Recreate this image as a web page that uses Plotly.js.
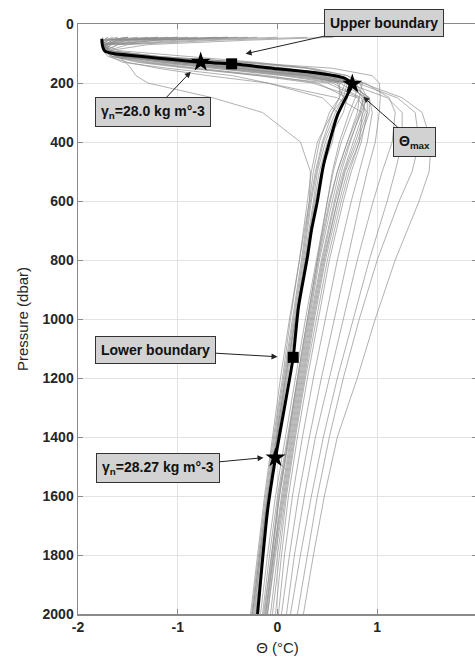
<!DOCTYPE html>
<html>
<head>
<meta charset="utf-8">
<script src="https://cdn.plot.ly/plotly-3.0.1.min.js"></script>
<style>
html,body{margin:0;padding:0;overflow:hidden;background:#fff;}
#chart{width:480px;height:664px;}
</style>
</head>
<body>
<div id="chart"></div>
<script>
// Shared pressure levels (dbar) for the individual gray profiles
const P = [45,55,70,90,110,130,150,175,200,250,300,400,500,600,800,1000,1200,1400,1600,1800,2000];

// Individual profiles: potential temperature (°C) at the levels in P
const A1 = [-1.5,-1.7,-1.74,-1.7,-1.2,-0.5,0.1,0.5,0.68,0.62,0.52,0.42,0.36,0.32,0.24,0.15,0.06,-0.03,-0.11,-0.18,-0.25];
const A2 = [-1.0,-1.6,-1.72,-1.68,-1.5,-1.0,-0.4,0.3,0.6,0.66,0.55,0.45,0.38,0.33,0.25,0.16,0.07,-0.02,-0.10,-0.17,-0.23];
const A3 = [-0.3,-1.2,-1.68,-1.72,-1.6,-1.52,-1.47,-1.42,-1.3,-0.65,-0.15,0.23,0.33,0.32,0.22,0.13,0.05,-0.04,-0.12,-0.19,-0.26];
const A4 = [-1.7,-1.74,-1.75,-1.74,-1.55,-0.9,-0.2,0.4,0.72,0.7,0.6,0.48,0.4,0.36,0.27,0.18,0.08,-0.01,-0.09,-0.15,-0.21];
const A5 = [-0.8,-1.5,-1.7,-1.73,-1.65,-1.3,-0.8,-0.1,0.4,0.7,0.66,0.5,0.42,0.37,0.28,0.19,0.1,0.0,-0.08,-0.16,-0.22];
const A6 = [0.0,-0.8,-1.6,-1.72,-1.68,-1.55,-1.1,-0.45,-0.1,0.45,0.6,0.55,0.44,0.38,0.28,0.18,0.09,0.0,-0.09,-0.17,-0.24];
const A7 = [-1.2,-1.65,-1.74,-1.7,-1.35,-0.6,0.0,0.45,0.62,0.62,0.55,0.4,0.34,0.3,0.22,0.12,0.03,-0.05,-0.13,-0.2,-0.27];
const A8 = [-1.75,-1.76,-1.74,-1.6,-0.9,-0.2,0.3,0.6,0.7,0.66,0.58,0.46,0.39,0.34,0.26,0.17,0.08,-0.01,-0.1,-0.18,-0.25];
const B1 = [-1.4,-1.72,-1.75,-1.73,-1.6,-1.1,-0.5,0.2,0.7,0.86,0.82,0.7,0.6,0.52,0.4,0.3,0.2,0.1,0.0,-0.08,-0.15];
const B2 = [-0.5,-1.4,-1.72,-1.74,-1.45,-0.7,-0.05,0.5,0.82,0.9,0.84,0.72,0.62,0.55,0.42,0.32,0.22,0.12,0.02,-0.06,-0.13];
const B3 = [-1.6,-1.74,-1.76,-1.72,-1.3,-0.4,0.3,0.7,0.85,0.82,0.75,0.64,0.56,0.5,0.39,0.28,0.18,0.08,-0.02,-0.1,-0.17];
const B4 = [0.3,-0.6,-1.5,-1.7,-1.66,-1.4,-0.9,-0.2,0.35,0.8,0.9,0.8,0.68,0.6,0.47,0.36,0.26,0.16,0.07,-0.02,-0.1];
const B5 = [-1.1,-1.65,-1.74,-1.75,-1.7,-1.5,-1.2,-0.7,-0.1,0.6,0.85,0.82,0.7,0.62,0.48,0.37,0.27,0.17,0.08,0.0,-0.07];
const B6 = [-0.9,-1.55,-1.73,-1.72,-1.5,-0.85,-0.2,0.45,0.78,0.88,0.86,0.76,0.66,0.58,0.45,0.34,0.24,0.14,0.05,-0.04,-0.11];
const B7 = [-1.3,-1.7,-1.75,-1.74,-1.62,-1.25,-0.65,0.05,0.55,0.84,0.88,0.78,0.67,0.6,0.46,0.35,0.25,0.15,0.06,-0.03,-0.1];
const B8 = [0.56,-0.3,-1.3,-1.68,-1.6,-1.0,-0.3,0.35,0.72,0.92,0.92,0.82,0.72,0.64,0.5,0.39,0.28,0.18,0.09,0.02,-0.05];
const B9 = [-0.2,-1.0,-1.6,-1.73,-1.55,-0.95,-0.35,0.3,0.7,0.87,0.83,0.73,0.64,0.57,0.44,0.33,0.23,0.13,0.04,-0.04,-0.12];
const B10 = [-1.5,-1.7,-1.74,-1.7,-1.2,-0.3,0.35,0.7,0.8,0.78,0.72,0.62,0.55,0.5,0.4,0.3,0.2,0.11,0.02,-0.05,-0.12];
const B11 = [-0.4,-1.2,-1.66,-1.74,-1.66,-1.35,-0.85,-0.15,0.5,0.82,0.8,0.7,0.6,0.53,0.41,0.31,0.21,0.11,0.01,-0.06,-0.14];
const B12 = [-1.65,-1.74,-1.76,-1.74,-1.58,-1.15,-0.6,0.1,0.62,0.9,0.9,0.84,0.74,0.66,0.52,0.41,0.3,0.2,0.11,0.04,-0.02];
const R1 = [-1.2,-1.6,-1.72,-1.7,-1.4,-0.8,-0.2,0.4,0.85,1.25,1.45,1.54,1.52,1.42,1.18,0.98,0.8,0.6,0.47,0.36,0.26];
const R2 = [-1.5,-1.72,-1.75,-1.72,-1.5,-1.0,-0.4,0.3,0.8,1.2,1.38,1.42,1.35,1.22,1.0,0.82,0.66,0.52,0.4,0.3,0.2];
const R3 = [-0.6,-1.5,-1.73,-1.74,-1.6,-1.15,-0.55,0.15,0.7,1.1,1.25,1.25,1.18,1.1,0.92,0.76,0.6,0.46,0.34,0.23,0.13];
const R4 = [-1.7,-1.75,-1.76,-1.73,-1.45,-0.75,-0.1,0.5,0.88,1.12,1.18,1.15,1.05,0.96,0.8,0.66,0.52,0.38,0.27,0.17,0.09];
const R5 = [-0.5,-1.3,-1.7,-1.7,-1.2,-0.3,0.55,0.95,1.02,1.03,1.02,0.98,0.9,0.83,0.7,0.57,0.44,0.32,0.21,0.12,0.04];
const R6 = [-1.0,-1.6,-1.74,-1.72,-1.55,-1.0,-0.4,0.25,0.7,0.92,0.95,0.9,0.82,0.74,0.6,0.48,0.36,0.25,0.15,0.07,0.01];

const profiles = [A1,A2,A3,A4,A5,A6,A7,A8,B1,B2,B3,B4,B5,B6,B7,B8,B9,B10,B11,B12,R1,R2,R3,R4,R5,R6];

// Mean profile (thick black)
const meanTheta = [-1.76,-1.76,-1.75,-1.73,-1.65,-1.3,-0.77,-0.46,0.0,0.4,0.66,0.75,0.70,0.60,0.46,0.40,0.34,0.30,0.21,0.157,0.07,-0.02,-0.10,-0.15,-0.20];
const meanP     = [50,60,80,92,100,112,129,135,152,166,182,203,240,310,480,600,700,790,960,1130,1300,1470,1650,1816,2000];

// Boundary markers (squares) and density / Theta-max markers (stars)
const boundTheta = [-0.46, 0.157];
const boundP     = [135, 1130];
const starTheta  = [-0.77, 0.75, -0.02];
const starP      = [129, 203, 1470];

// Tick labels
const xTickVals = [-2,-1,0,1,2];
const xTickText = ['-2','-1','0','1','2'];
const yTickVals = [0,200,400,600,800,1000,1200,1400,1600,1800,2000];
const yTickText = ['0','200','400','600','800','1000','1200','1400','1600','1800','2000'];

const bold = s => '<b>' + s + '</b>';

const traces = [];
profiles.forEach(th => {
  traces.push({x: th, y: P, type:'scatter', mode:'lines',
    line:{color:'rgba(140,140,140,0.85)', width:0.8}, hoverinfo:'skip', showlegend:false});
});
traces.push({x: meanTheta, y: meanP, type:'scatter', mode:'lines',
  line:{color:'#000', width:3, shape:'spline', smoothing:0.6}, showlegend:false});
traces.push({x: boundTheta, y: boundP, type:'scatter', mode:'markers',
  marker:{symbol:'square', size:11, color:'#000'}, showlegend:false});
traces.push({x: starTheta, y: starP, type:'scatter', mode:'markers',
  marker:{symbol:'star', size:15, color:'#000'}, showlegend:false});

const boxFont = {family:'Liberation Sans, Arial, sans-serif', size:14, color:'#111'};
function box(text, x, y, ax, ay){
  return {text:bold(text), x:x, y:y, xref:'x', yref:'y', ax:ax, ay:ay,
    showarrow:true, arrowhead:2, arrowsize:1.2, arrowwidth:1, arrowcolor:'#222',
    bgcolor:'#d2d2d2', bordercolor:'#333', borderwidth:1, borderpad:5,
    font:boxFont};
}

const layout = {
  width:480, height:664,
  margin:{l:78, r:3, t:24, b:50},
  paper_bgcolor:'#fff', plot_bgcolor:'#fff',
  font:{family:'Liberation Sans, Arial, sans-serif', color:'#262626'},
  xaxis:{range:[-2,2], tickvals:xTickVals, ticktext:xTickText.map(bold),
    showgrid:true, gridcolor:'#e3e3e3', gridwidth:1, zeroline:false,
    showline:true, linecolor:'#8a8a8a', linewidth:1.5, mirror:'ticks',
    ticks:'inside', ticklen:5, tickcolor:'#8a8a8a',
    tickfont:{size:14, color:'#262626'},
    title:{text:'Θ (°C)', font:{size:15, color:'#262626'}, standoff:8}},
  yaxis:{range:[2000,0], tickvals:yTickVals, ticktext:yTickText.map(bold),
    showgrid:true, gridcolor:'#e3e3e3', gridwidth:1, zeroline:false,
    showline:true, linecolor:'#8a8a8a', linewidth:1.5, mirror:'ticks',
    ticks:'inside', ticklen:5, tickcolor:'#8a8a8a',
    tickfont:{size:14, color:'#262626'},
    title:{text:'Pressure (dbar)', font:{size:15, color:'#262626'}, standoff:10}},
  annotations:[
    box('Upper boundary', -0.32, 101, 138, -31),
    box('γ<sub>n</sub>=28.0 kg m°-3', -0.87, 162, -38, 40),
    box('Θ<sub>max</sub>', 0.86, 247, 51, 45),
    box('Lower boundary', 0.0, 1128, -122, -7),
    box('γ<sub>n</sub>=28.27 kg m°-3', -0.14, 1470, -106, 10)
  ]
};

Plotly.newPlot('chart', traces, layout, {staticPlot:true, displayModeBar:false});
</script>
</body>
</html>
